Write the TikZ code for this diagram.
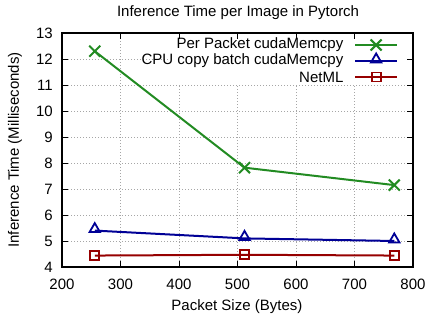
\documentclass[tikz,border=0pt]{standalone}
\usepackage{fontspec}
\setmainfont{Liberation Sans}
\usetikzlibrary{shapes.misc,shapes.geometric}

\definecolor{pergreen}{RGB}{34,139,34}
\definecolor{cpublue}{RGB}{0,0,150}
\definecolor{netred}{RGB}{150,0,0}

\tikzset{
  gridline/.style={gray!70, line width=0.6pt, dash pattern=on 1pt off 2pt},
  series/.style={line width=2pt},
  xmark/.style={cross out, draw, line width=2pt, minimum size=9pt, inner sep=0pt},
  trimark/.style={regular polygon, regular polygon sides=3, draw, line width=1.8pt, minimum size=12pt, inner sep=0pt},
  boxmark/.style={rectangle, draw, line width=1.8pt, minimum size=9pt, inner sep=0pt},
  ticklabel/.style={inner sep=0pt}
}

\begin{document}
\begin{tikzpicture}[x=0.585pt, y=26pt, font=\fontsize{15}{18}\selectfont]
  \useasboundingbox (94.02,1.962) rectangle (827.35,14.269);

  % grid
  \foreach \x in {300,400,...,700}
    \draw[gridline] (\x,4) -- (\x,13);
  \foreach \y in {5,...,12}
    \draw[gridline] (200,\y) -- (800,\y);

  % key sits on a white patch
  \fill[white] (385,11.05) rectangle (786,12.88);

  % frame and ticks
  \draw[line width=1.2pt] (200,4) rectangle (800,13);
  \foreach \x in {200,300,...,800} {
    \draw[line width=0.9pt] (\x,4) -- ++(0pt,6pt);
    \draw[line width=0.9pt] (\x,13) -- ++(0pt,-6pt);
    \node[ticklabel, anchor=base] (xt\x) at ([yshift=-23pt]\x,4) {\x};
  }
  \foreach \y in {4,...,13} {
    \draw[line width=0.9pt] (200,\y) -- ++(6pt,0pt);
    \draw[line width=0.9pt] (800,\y) -- ++(-6pt,0pt);
    \node[ticklabel, anchor=east] (yt\y) at ([xshift=-9pt]200,\y) {\y};
  }

  \node (title) at (501,13.79) {Inference Time per Image in Pytorch};
  \node (xlabel) at (499,2.46) {Packet Size (Bytes)};
  \node[rotate=90] (ylabel) at (119.7,8.5) {Inference Time (Milliseconds)};

  % data
  \foreach \n/\x/\y in {g1/256/12.3, g2/512/7.82, g3/768/7.15,
                        b1/256/5.4, b2/512/5.1, b3/768/5.0,
                        r1/256/4.44, r2/512/4.47, r3/768/4.44}
    \coordinate (\n) at (\x,\y);

  \draw[series, pergreen] (g1) -- (g2) -- (g3);
  \draw[series, cpublue] (b1) -- (b2) -- (b3);
  \draw[series, netred] (r1) -- (r2) -- (r3);
  \foreach \i in {1,2,3} {
    \node[xmark, pergreen] (gm\i) at (g\i) {};
    \node[trimark, cpublue] (bm\i) at ([yshift=1.5pt]b\i) {};
    \node[boxmark, netred] (rm\i) at (r\i) {};
  }

  % key
  \node[anchor=east] (kg) at (687,12.538) {Per Packet cudaMemcpy};
  \node[anchor=east] (kb) at (687,11.923) {CPU copy batch cudaMemcpy};
  \node[anchor=east] (kr) at (687,11.308) {NetML};
  \coordinate (kg1) at (701,12.538); \coordinate (kg2) at (773,12.538);
  \coordinate (kb1) at (701,11.923); \coordinate (kb2) at (773,11.923);
  \coordinate (kr1) at (701,11.308); \coordinate (kr2) at (773,11.308);
  \draw[series, pergreen] (kg1) -- (kg2);
  \draw[series, cpublue] (kb1) -- (kb2);
  \draw[series, netred] (kr1) -- (kr2);
  \node[xmark, pergreen] (kgm) at (737,12.538) {};
  \node[trimark, cpublue] (kbm) at ([yshift=1.5pt]737,11.923) {};
  \node[boxmark, netred] (krm) at (737,11.308) {};
\end{tikzpicture}
\end{document}
